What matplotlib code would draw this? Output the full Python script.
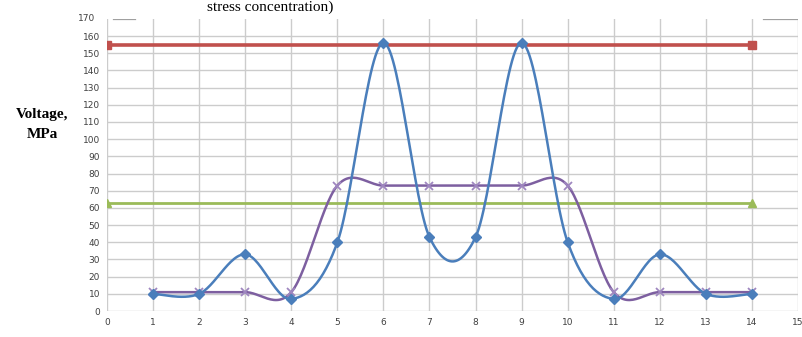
import numpy as np
import matplotlib
matplotlib.use("Agg")
import matplotlib.pyplot as plt

# data
points = [1, 2, 3, 4, 5, 6, 7, 8, 9, 10, 11, 12, 13, 14]
stress_blue = [10, 10, 33, 7, 40, 156, 43, 43, 156, 40, 7, 33, 10, 10]
stress_purple = [11, 11, 11, 11, 73, 73, 73, 73, 73, 73, 11, 11, 11, 11]
limit_x = [0, 14]
limit_red = [155, 155]
limit_green = [63, 63]


def smooth(x, y, n=30):
    # excel-like smoothed line (catmull-rom as cubic bezier)
    x = np.asarray(x, float)
    y = np.asarray(y, float)
    px = np.concatenate([[x[0]], x, [x[-1]]])
    py = np.concatenate([[y[0]], y, [y[-1]]])
    xs, ys = [], []
    t = np.linspace(0, 1, n)
    for i in range(1, len(px) - 2):
        p0 = np.array([px[i], py[i]])
        p3 = np.array([px[i + 1], py[i + 1]])
        p1 = p0 + (np.array([px[i + 1], py[i + 1]]) - np.array([px[i - 1], py[i - 1]])) / 6
        p2 = p3 - (np.array([px[i + 2], py[i + 2]]) - np.array([px[i], py[i]])) / 6
        b = ((1 - t) ** 3)[:, None] * p0 + (3 * (1 - t) ** 2 * t)[:, None] * p1 \
            + (3 * (1 - t) * t ** 2)[:, None] * p2 + (t ** 3)[:, None] * p3
        xs.extend(b[:, 0])
        ys.extend(b[:, 1])
    return xs, ys


fig = plt.figure(figsize=(8.03, 3.37), dpi=100)
ax = fig.add_axes([0.1333, 0.077, 0.8605, 0.867])

ax.set_xlim(0, 15)
ax.set_ylim(0, 170)
ax.set_xticks(range(0, 16))
ax.set_yticks(range(0, 161, 10))
for s in ax.spines.values():
    s.set_visible(False)
ax.grid(True, color="#cccccc", linewidth=1.0)
ax.set_axisbelow(True)
ax.tick_params(length=0, labelsize=6.5, colors="#404040", pad=5)
# top gridline only partly visible (title covers the middle)
ax.axhline(170, 0.009, 0.04, color="#a0a0a0", linewidth=0.9)
ax.axhline(170, 0.949, 1.0, color="#a0a0a0", linewidth=0.9)
ax.text(-0.25, 170, "170", ha="right", va="center", fontsize=6.5, color="#404040")

ax.plot(limit_x, limit_red, color="#c0504d", linewidth=2.6, marker="s",
        markersize=6, zorder=3)
ax.plot(limit_x, limit_green, color="#9bbb59", linewidth=2.0, marker="^",
        markersize=6, zorder=3)

sx, sy = smooth(points, stress_purple)
ax.plot(sx, sy, color="#7d5fa0", linewidth=1.8, zorder=4)
ax.plot(points, stress_purple, linestyle="none", marker="x", color="#9f87c0",
        markersize=6, markeredgewidth=1.3, zorder=5)

sx, sy = smooth(points, stress_blue)
ax.plot(sx, sy, color="#4a7ebb", linewidth=1.8, zorder=6)
ax.plot(points, stress_blue, linestyle="none", marker="D", color="#4a7ebb",
        markersize=5, zorder=7)

fig.text(0.336, 0.998, "stress concentration)", ha="center", va="top",
         fontsize=11, family="Liberation Serif")
fig.text(0.053, 0.63, "Voltage,\nMPa", ha="center", va="center",
         fontsize=11, fontweight="bold", family="Liberation Serif",
         linespacing=1.7)

fig.savefig("out.png", dpi=100)
